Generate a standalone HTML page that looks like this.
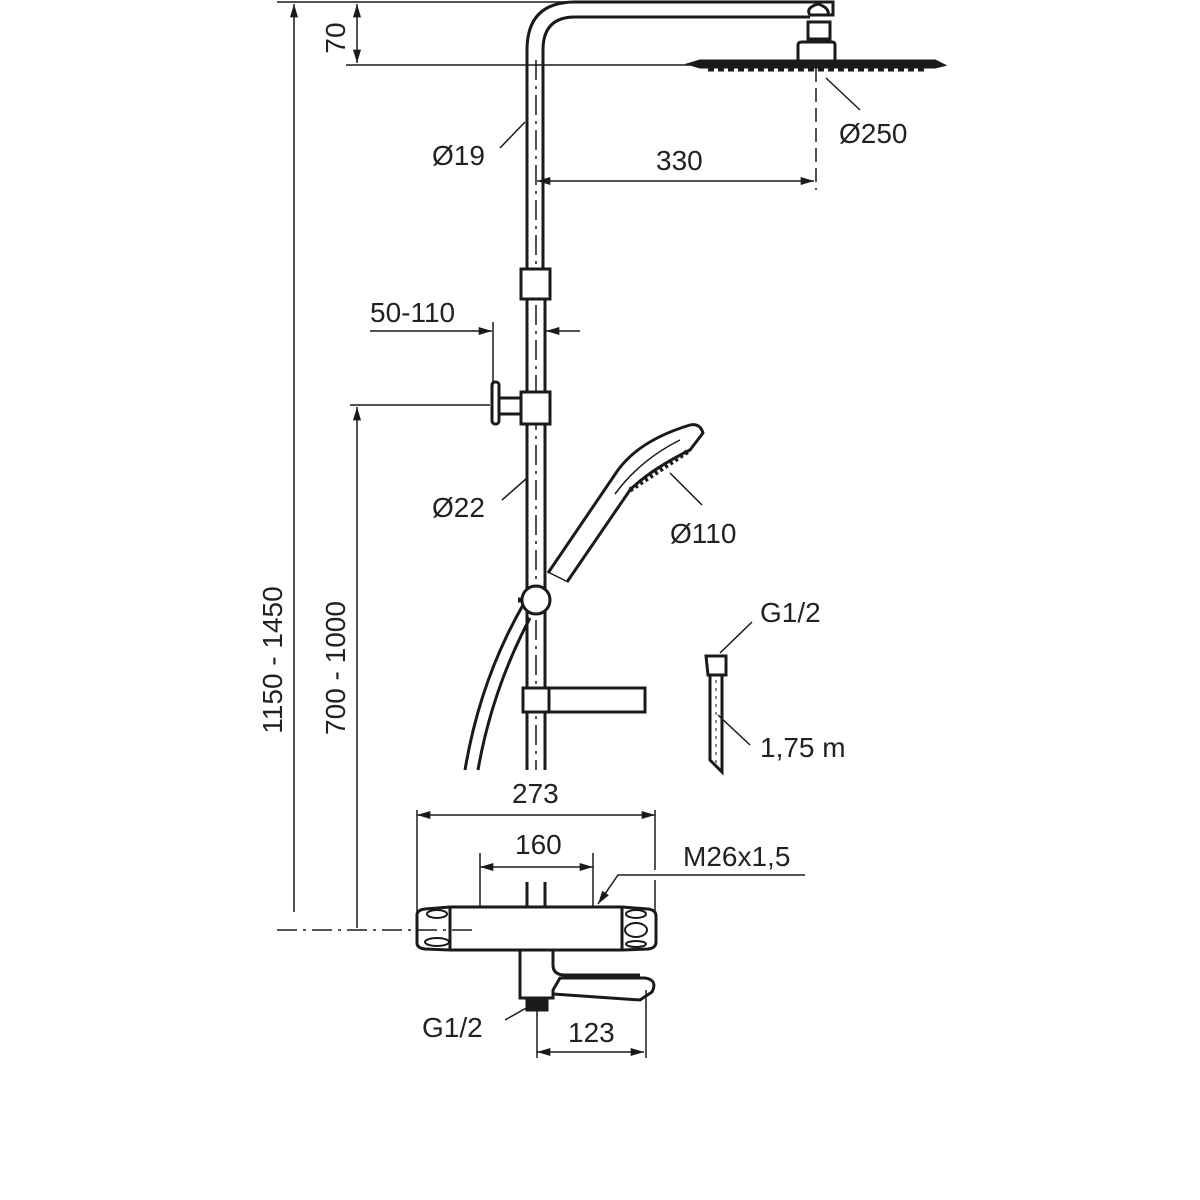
<!DOCTYPE html>
<html><head><style>body{margin:0;background:#fff}svg{display:block}text{font-family:"Liberation Sans",Arial,sans-serif;font-size:28px;fill:#222}</style></head>
<body>
<svg width="1200" height="1200" viewBox="0 0 1200 1200" xmlns="http://www.w3.org/2000/svg">
<defs>
<marker id="a" viewBox="0 0 10 6" refX="10" refY="3" markerWidth="14" markerHeight="8" markerUnits="userSpaceOnUse" orient="auto-start-reverse"><path d="M0,0L10,3L0,6z" fill="#1a1a1a"/></marker>
</defs>
<g stroke="#1a1a1a" fill="none">
<g stroke-width="1.5">
<line x1="277" y1="2" x2="612" y2="2"/>
<line x1="346" y1="65" x2="690" y2="65"/>
<line x1="294" y1="912" x2="294" y2="4" marker-end="url(#a)"/>
<line x1="357" y1="4" x2="357" y2="63" marker-start="url(#a)" marker-end="url(#a)"/>
<line x1="357" y1="928" x2="357" y2="407" marker-end="url(#a)"/>
<line x1="350" y1="405" x2="490" y2="405"/>
<line x1="537" y1="181" x2="814" y2="181" marker-start="url(#a)" marker-end="url(#a)"/>
<line x1="826" y1="78" x2="860" y2="110"/>
<line x1="525" y1="122" x2="500" y2="148"/>
<line x1="527" y1="478" x2="502" y2="500"/>
<line x1="370" y1="331" x2="492" y2="331" marker-end="url(#a)"/>
<line x1="580" y1="331" x2="546" y2="331" marker-end="url(#a)"/>
<line x1="493" y1="322" x2="493" y2="385"/>
<line x1="670" y1="473" x2="702" y2="505"/>
<line x1="720" y1="653" x2="752" y2="622"/>
<line x1="718" y1="715" x2="750" y2="745"/>
<line x1="417" y1="815" x2="655" y2="815" marker-start="url(#a)" marker-end="url(#a)"/>
<line x1="417" y1="810" x2="417" y2="912"/>
<line x1="655" y1="810" x2="655" y2="870"/>
<line x1="655" y1="880" x2="655" y2="915"/>
<line x1="480" y1="867" x2="593" y2="867" marker-start="url(#a)" marker-end="url(#a)"/>
<line x1="480" y1="853" x2="480" y2="906"/>
<line x1="593" y1="853" x2="593" y2="906"/>
<path d="M805,875H618L598,904" marker-end="url(#a)"/>
<line x1="505" y1="1020" x2="528" y2="1007"/>
<line x1="537" y1="1052" x2="644" y2="1052" marker-start="url(#a)" marker-end="url(#a)"/>
<line x1="537" y1="1010" x2="537" y2="1058"/>
<line x1="646" y1="990" x2="646" y2="1058"/>
<line x1="536" y1="60" x2="536" y2="770" stroke-dasharray="20,6,3,6"/>
<line x1="816" y1="68" x2="816" y2="190" stroke-dasharray="14,6"/>
</g>
<g stroke-width="3">
<path d="M527,270V50Q527,2 575,2H833V15H810"/>
<path d="M543,270V50Q543,17 575,17H810"/>
<path d="M810,15Q805,8 818,4Q830,8 828,15"/>
<rect x="808" y="22" width="22" height="17"/>
<path d="M798,62V45Q798,42 802,42H832Q835,42 835,45V62"/>
<path d="M690,64L700,61H935L943,65L935,67H700Z" fill="#1a1a1a"/>
<line x1="708" y1="69" x2="925" y2="69" stroke-width="5" stroke-dasharray="6,4"/>
<line x1="527" y1="300" x2="527" y2="770"/>
<line x1="545" y1="300" x2="545" y2="770"/>
<rect x="521" y="269" width="29" height="30" fill="#fff"/>
<rect x="521" y="392" width="29" height="32" fill="#fff"/>
<rect x="492" y="382" width="7" height="42" rx="3"/>
<line x1="499" y1="398" x2="521" y2="398"/>
<line x1="499" y1="414" x2="521" y2="414"/>
<path d="M548,573L618,470Q640,440 690,425Q700,423 703,433L690,450Q650,470 630,490L567,582" fill="#fff"/>
<line x1="548" y1="572" x2="568" y2="582" stroke-width="1.5"/>
<path d="M630,490L690,450" stroke-width="5" stroke-dasharray="3,3"/>
<path d="M615,494Q640,460 680,440" stroke-width="1.5"/>
<path d="M523,605Q480,680 465,770"/>
<path d="M530,618Q492,690 478,770"/>
<circle cx="536" cy="600" r="14" fill="#fff"/>
<line x1="518" y1="600" x2="522" y2="600" stroke-width="5"/>
<rect x="523" y="688" width="26" height="24" fill="#fff"/>
<rect x="549" y="688" width="96" height="24"/>
<path d="M706,656H726V675H708Z"/>
<path d="M710,675V760L722,772V675"/>
<line x1="716" y1="680" x2="716" y2="765" stroke-width="1" stroke-dasharray="3,5"/>
<line x1="527" y1="882" x2="527" y2="907"/>
<line x1="545" y1="882" x2="545" y2="907"/>
<path d="M417,915Q417,910 425,909L450,907H622L648,909Q656,910 656,916V942Q656,948 648,949L622,950H450L425,949Q417,948 417,943Z" fill="#fff"/>
<line x1="450" y1="907" x2="450" y2="950"/>
<line x1="622" y1="907" x2="622" y2="950"/>
<ellipse cx="437" cy="914" rx="10" ry="4" stroke-width="2"/>
<ellipse cx="437" cy="942" rx="12" ry="4" stroke-width="2"/>
<ellipse cx="636" cy="914" rx="10" ry="4" stroke-width="2"/>
<ellipse cx="636" cy="930" rx="11" ry="7" stroke-width="2"/>
<ellipse cx="636" cy="944" rx="10" ry="3" stroke-width="2"/>
<path d="M520,950V998H553V990L560,978H645Q658,980 652,992L640,1000L553,994"/>
<path d="M553,950V965Q553,975 565,975H640"/>
<rect x="527" y="998" width="20" height="12" fill="#1a1a1a"/>
</g>
<line x1="277" y1="930" x2="475" y2="930" stroke-width="1.5" stroke-dasharray="20,6,3,6"/>
</g>
<text x="432" y="165">Ø19</text>
<text x="839" y="143">Ø250</text>
<text x="656" y="170">330</text>
<text x="370" y="322">50-110</text>
<text x="432" y="517">Ø22</text>
<text x="670" y="543">Ø110</text>
<text x="760" y="622">G1/2</text>
<text x="760" y="757">1,75 m</text>
<text x="512" y="803">273</text>
<text x="515" y="854">160</text>
<text x="683" y="866">M26x1,5</text>
<text x="422" y="1037">G1/2</text>
<text x="568" y="1042">123</text>
<text transform="translate(345,38) rotate(-90)" text-anchor="middle">70</text>
<text transform="translate(345,668) rotate(-90)" text-anchor="middle">700 - 1000</text>
<text transform="translate(282,660) rotate(-90)" text-anchor="middle">1150 - 1450</text>
</svg>
</body></html>
